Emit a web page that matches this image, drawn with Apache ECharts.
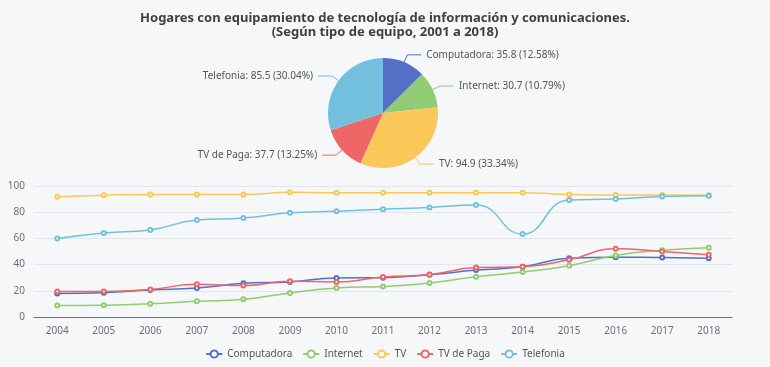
<!DOCTYPE html>
<html>
<head>
<meta charset="utf-8">
<script src="https://cdn.jsdelivr.net/npm/echarts@6/dist/echarts.min.js"></script>
<style>html,body{margin:0;padding:0;background:#f6f7f8;}#c{width:770px;height:367px;}</style>
</head>
<body>
<div id="c"></div>
<script>
const years = ['2004','2005','2006','2007','2008','2009','2010','2011','2012','2013','2014','2015','2016','2017','2018'];
const seriesNames = ['Computadora','Internet','TV','TV de Paga','Telefonia'];
const computadora = [18.0, 18.6, 20.6, 22.1, 25.7, 26.8, 29.8, 30.0, 32.2, 35.8, 38.3, 44.9, 45.6, 45.4, 44.9];
const internet    = [8.7, 9.0, 10.1, 12.0, 13.5, 18.4, 22.2, 23.3, 26.0, 30.7, 34.4, 39.2, 47.0, 50.9, 52.9];
const tv          = [91.8, 93.0, 93.6, 93.6, 93.5, 95.2, 94.8, 94.9, 94.9, 94.9, 94.9, 93.5, 93.1, 93.2, 92.9];
const tvPaga      = [19.4, 19.4, 21.0, 25.0, 24.0, 27.3, 26.8, 30.6, 32.4, 37.7, 38.4, 43.7, 52.1, 50.0, 47.5];
const telefonia   = [60.0, 64.2, 66.5, 74.0, 75.6, 79.5, 80.8, 82.3, 83.6, 85.5, 63.3, 89.3, 90.0, 92.0, 92.5];
const pieYear = '2013';
const yTicks = [0, 20, 40, 60, 80, 100];

const all = [computadora, internet, tv, tvPaga, telefonia];
const pieIdx = years.indexOf(pieYear);
const colors = ['#5470c6','#91cc75','#fac858','#ee6666','#73c0de'];
const font = '"Noto Sans", sans-serif';

const chart = echarts.init(document.getElementById('c'));
chart.setOption({
  backgroundColor: '#f6f7f8',
  color: colors,
  textStyle: { fontFamily: font },
  title: {
    text: 'Hogares con equipamiento de tecnología de información y comunicaciones.\n(Según tipo de equipo, 2001 a 2018)',
    left: 'center', top: 6,
    textStyle: { fontSize: 13, fontWeight: 'bold', color: '#404040', lineHeight: 14, fontFamily: font }
  },
  legend: {
    bottom: 3, left: 'center', itemGap: 10, itemWidth: 16, itemHeight: 9,
    data: seriesNames,
    textStyle: { fontSize: 10, color: '#555', fontFamily: font }
  },
  grid: { left: 34, right: 38, top: 186, bottom: 50 },
  xAxis: {
    type: 'category', data: years, boundaryGap: true,
    axisLabel: { fontSize: 10, color: '#6e7079', margin: 9 },
    axisLine: { lineStyle: { color: '#6e7079' } },
    axisTick: { lineStyle: { color: '#6e7079' } }
  },
  yAxis: {
    type: 'value', min: yTicks[0], max: yTicks[yTicks.length - 1], interval: 20,
    axisLabel: { fontSize: 10, color: '#6e7079', margin: 9 },
    splitLine: { lineStyle: { color: '#e0e6f1' } }
  },
  series: seriesNames.map((n, i) => ({
    name: n, type: 'line', smooth: true, data: all[i],
    symbol: 'emptyCircle', symbolSize: 4,
    lineStyle: { width: 1.5 }
  })).concat([{
    type: 'pie', radius: 55, center: [383, 113],
    label: { formatter: '{b}: {c} ({d}%)', fontSize: 10, color: '#555', fontFamily: font },
    labelLine: { length: 8, length2: 14 },
    data: seriesNames.map((n, i) => ({ name: n, value: all[i][pieIdx] }))
  }])
});
</script>
</body>
</html>
